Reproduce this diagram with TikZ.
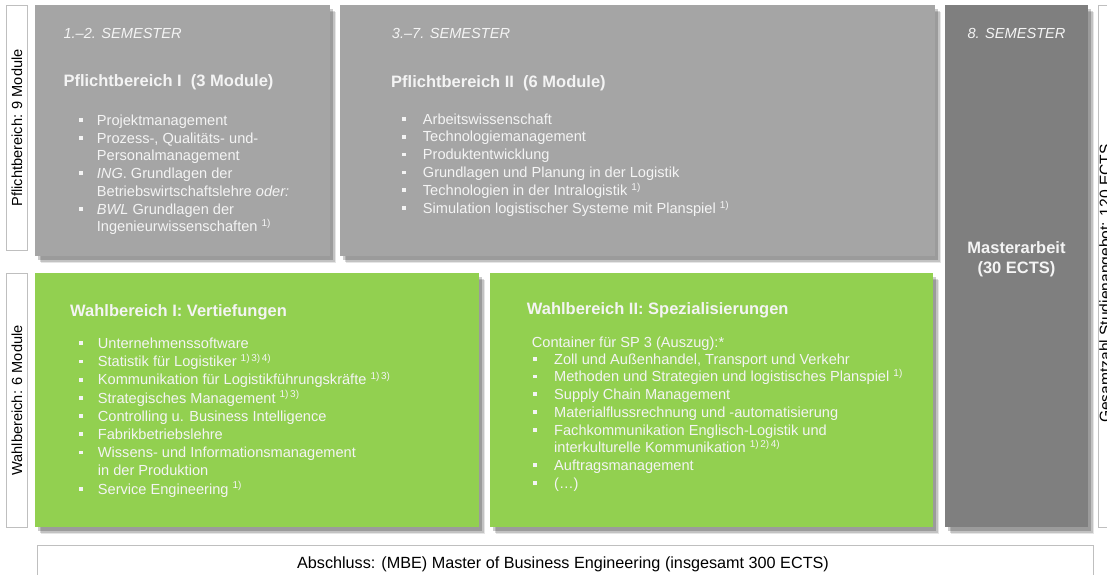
\documentclass[tikz,border=0pt]{standalone}
\usepackage{fontspec}
\setmainfont{Liberation Sans}
\definecolor{boxgray}{HTML}{A5A5A5}
\definecolor{boxdark}{HTML}{7F7F7F}
\definecolor{boxgreen}{HTML}{92D050}
\definecolor{txtw}{HTML}{F4F4F4}
\definecolor{lblborder}{HTML}{BFBFBF}
\newcommand\fitem{\fontsize{14.6}{17.5}\selectfont}
\newcommand\ftitle{\fontsize{16.5}{20}\selectfont\bfseries}
\newcommand\fsem{\fontsize{14.6}{17.5}\selectfont\itshape}
\newcommand\sups[1]{\raisebox{5.5pt}{\fontsize{10}{10}\selectfont #1}}
\tikzset{
  shade/.style={
    preaction={fill=black,opacity=.10,transform canvas={xshift=6pt,yshift=-7pt}},
    preaction={fill=black,opacity=.15,transform canvas={xshift=4.5pt,yshift=-5.5pt}},
    preaction={fill=black,opacity=.20,transform canvas={xshift=3pt,yshift=-4pt}}},
  card/.style={shade, draw=none, inner sep=0, anchor=north west},
  lblbox/.style={draw=lblborder, line width=0.8pt, fill=white, inner sep=0, anchor=north west},
  itm/.style={anchor=base west, inner sep=0, text=txtw, font=\fitem},
  ttl/.style={anchor=base west, inner sep=0, text=txtw, font=\ftitle},
  sem/.style={anchor=base west, inner sep=0, text=txtw, font=\fsem},
  vlbl/.style={rotate=90, inner sep=0, font=\fitem, text=black},
}
\newcommand\placelist[6]{%
  \foreach [count=\i] \k/\t in {#6} {
    \node[itm] (#1-\i) at (#3, {#4+#5*(\i-1)}) {\t};
    \if\k b \fill[txtw] (#2, {#4+#5*(\i-1)-7.2}) rectangle ++(3.8, 3.8); \fi
  }%
}
\begin{document}
\begin{tikzpicture}[x=1pt,y=-1pt]
\useasboundingbox (0,0) rectangle (1107,574);
\clip (0,0) rectangle (1107,574);
\fill[white] (0,0) rectangle (1107,574);

% left labels
\node[lblbox, minimum width=21pt, minimum height=245pt] (lab1) at (6,5) {};
\node[vlbl] (lab1t) at (lab1.center) {Pflichtbereich: 9 Module};
\node[lblbox, minimum width=21pt, minimum height=254pt] (lab2) at (6,273) {};
\node[vlbl] (lab2t) at (lab2.center) {Wahlbereich: 6 Module};

% right total box (cut by the right edge, as in the original)
\node[lblbox, minimum width=40pt, minimum height=522pt] (tot) at (1097.5,5) {};
\node[rotate=90, anchor=base, inner sep=0, font=\fontsize{15.6}{18}\selectfont] (tott) at (1110.5,283.5) {Gesamtzahl Studienangebot: 120 ECTS};

% bottom box
\node[lblbox, minimum width=1056pt, minimum height=50pt] (absch) at (37,545) {};
\node[anchor=base, inner sep=0, font=\fontsize{16.2}{18}\selectfont] (abscht) at (563,568) {Abschluss: (MBE) Master of Business Engineering (insgesamt 300 ECTS)};

% boxes
\node[card, fill=boxgray, minimum width=295pt, minimum height=251pt] (pb1) at (35,5) {};
\node[card, fill=boxgray, minimum width=595pt, minimum height=251pt] (pb2) at (340,5) {};
\node[card, fill=boxdark, minimum width=143pt, minimum height=522pt] (ma) at (945,5) {};
\node[card, fill=boxgreen, minimum width=444pt, minimum height=254pt] (wb1) at (35,273) {};
\node[card, fill=boxgreen, minimum width=443pt, minimum height=254pt] (wb2) at (490,273) {};

% Pflichtbereich I
\node[sem] (pb1s) at (63.3,38.5) {1.–2. SEMESTER};
\node[ttl] (pb1t) at (63.3,86.5) {Pflichtbereich I\ \ (3 Module)};
\placelist{pb1l}{79.3}{96.7}{125.5}{17.7}{b/Projektmanagement, b/{Prozess-, Qualitäts- und-}, n/Personalmanagement, b/{\textit{ING}. Grundlagen der}, n/{Betriebswirtschaftslehre \textit{oder:}}, b/{\textit{BWL} Grundlagen der}, n/{Ingenieurwissenschaften \sups{1)}}}

% Pflichtbereich II
\node[sem] (pb2s) at (391.7,38.5) {3.–7. SEMESTER};
\node[ttl] (pb2t) at (391,87.5) {Pflichtbereich II\ \ (6 Module)};
\placelist{pb2l}{401.7}{422.7}{124}{17.9}{b/Arbeitswissenschaft, b/Technologiemanagement, b/Produktentwicklung, b/Grundlagen und Planung in der Logistik, b/{Technologien in der Intralogistik \sups{1)}}, b/{Simulation logistischer Systeme mit Planspiel \sups{1)}}}

% Masterarbeit
\node[anchor=base, inner sep=0, text=txtw, font=\fsem] (mas) at (1016.5,38.5) {8. SEMESTER};
\node[anchor=base, inner sep=0, text=txtw, font=\ftitle] (mat) at (1016.5,253) {Masterarbeit};
\node[anchor=base, inner sep=0, text=txtw, font=\ftitle] (mat2) at (1016.5,273) {(30 ECTS)};

% Wahlbereich I
\node[ttl] (wb1t) at (70,316) {Wahlbereich I: Vertiefungen};
\placelist{wb1l}{79.3}{97.7}{348.5}{18.2}{b/Unternehmenssoftware, b/{Statistik für Logistiker \sups{1)\,3)\,4)}}, b/{Kommunikation für Logistikführungskräfte \sups{1)\,3)}}, b/{Strategisches Management \sups{1)\,3)}}, b/Controlling u. Business Intelligence, b/Fabrikbetriebslehre, b/Wissens- und Informationsmanagement, n/in der Produktion, b/{Service Engineering \sups{1)}}}

% Wahlbereich II
\node[ttl] (wb2t) at (526.7,314) {Wahlbereich II: Spezialisierungen};
\node[itm] (wb2c) at (531.7,347) {Container für SP 3 (Auszug):*};
\placelist{wb2l}{533.3}{554}{364}{17.75}{b/{Zoll und Außenhandel, Transport und Verkehr}, b/{Methoden und Strategien und logistisches Planspiel \sups{1)}}, b/Supply Chain Management, b/Materialflussrechnung und -automatisierung, b/Fachkommunikation Englisch-Logistik und, n/{interkulturelle Kommunikation \sups{1)\,2)\,4)}}, b/Auftragsmanagement, b/(…)}
\end{tikzpicture}
\end{document}
